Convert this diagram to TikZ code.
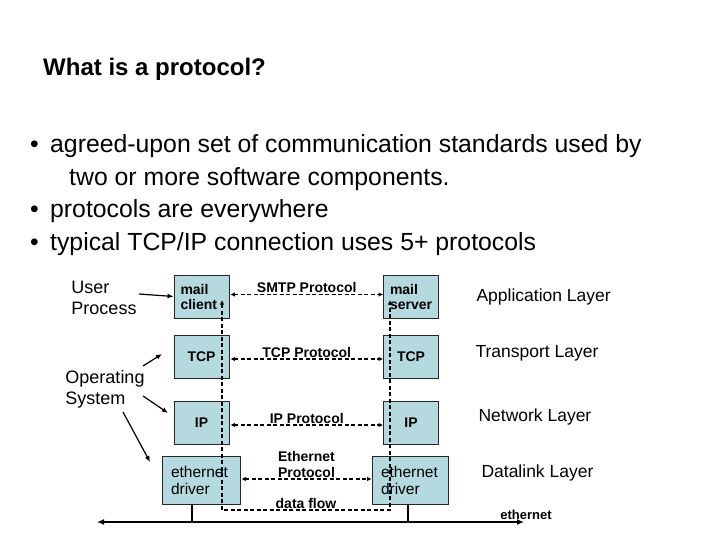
\documentclass[tikz,border=0pt]{standalone}
\usepackage{fontspec}
\setmainfont{Liberation Sans}
\usetikzlibrary{arrows.meta}
\definecolor{boxfill}{RGB}{180,218,224}
\tikzset{
  stackbox/.style={draw=black!85, fill=boxfill, line width=0.8pt, inner ysep=0pt,
    minimum height=43pt, font=\fontsize{14}{15}\selectfont\bfseries},
  leftbox/.style={stackbox, text width=42pt, inner xsep=6.5pt, align=left},
  midbox/.style={stackbox, minimum width=55pt, inner xsep=0pt},
  drvbox/.style={stackbox, minimum height=48pt, inner xsep=9pt, align=left,
    font=\fontsize{15.5}{17}\selectfont},
  peer/.style={dash pattern=on 4pt off 2.5pt, line width=1.7pt,
    {Latex[length=4.5pt,width=4.5pt]}-{Latex[length=4.5pt,width=4.5pt]}},
  plabel/.style={font=\fontsize{14}{16}\selectfont\bfseries, inner sep=1pt, align=center},
  layer/.style={anchor=west, font=\fontsize{17.5}{19}\selectfont},
  side/.style={font=\fontsize{18}{21}\selectfont, align=left},
  point/.style={-{Latex[length=6pt,width=5pt]}, line width=1.2pt},
  bullet/.style={anchor=base west, font=\fontsize{24.8}{28}\selectfont}
}
\begin{document}
\begin{tikzpicture}[x=1pt, y=-1pt]
  \useasboundingbox (0,0) rectangle (720,540);

  % heading and bullets
  \node[anchor=base west, font=\fontsize{24}{28}\selectfont\bfseries, inner sep=0pt]
    (title) at (43,76) {What is a protocol?};
  \node[bullet, inner sep=0pt] (b1) at (30,153) {•};
  \node[bullet, inner sep=0pt] (t1) at (50,153) {agreed-upon set of communication standards used by};
  \node[bullet, inner sep=0pt] (t1b) at (69,186) {two or more software components.};
  \node[bullet, inner sep=0pt] (b2) at (30,218) {•};
  \node[bullet, inner sep=0pt] (t2) at (50,218) {protocols are everywhere};
  \node[bullet, inner sep=0pt] (b3) at (30,251) {•};
  \node[bullet, inner sep=0pt] (t3) at (50,251) {typical TCP/IP connection uses 5+ protocols};

  % the two stacks
  \node[leftbox] (mc) at (201.5,296.5) {mail\\client};
  \node[leftbox] (ms) at (411,296.5) {mail\\server};
  \node[midbox] (tcpl) at (201.5,357) {TCP};
  \node[midbox] (tcpr) at (411,357) {TCP};
  \node[midbox] (ipl) at (201.5,423) {IP};
  \node[midbox] (ipr) at (411,423) {IP};
  \node[drvbox, text width=60pt] (edl) at (201,480) {ethernet\\driver};
  \node[drvbox, text width=58pt] (edr) at (410,480) {ethernet\\driver};

  % peer protocols
  \draw[peer] (mc.east) ++(1,-2) coordinate (smtpA) -- (smtpA -| ms.west)
    node[plabel, midway, above] (smtp) {SMTP Protocol};
  \draw[peer] (tcpl.east) ++(1,2) coordinate (tcpA) -- (tcpA -| tcpr.west)
    node[plabel, midway, above] (tcpp) {TCP Protocol};
  \draw[peer] (ipl.east) ++(1,2) coordinate (ipA) -- (ipA -| ipr.west)
    node[plabel, midway, above] (ipp) {IP Protocol};
  \draw[peer] (edl.east) ++(1,-1) coordinate (ethA) -- (ethA -| edr.west)
    node[plabel, midway, above] (ethp) {Ethernet\\Protocol};

  % data flow
  \coordinate (dfA) at (222,300);
  \coordinate (dfB) at (222,510);
  \coordinate (dfC) at (390,510);
  \coordinate (dfD) at (390,300);
  \draw[peer] (dfA) -- (dfB) -- (dfC)
    node[plabel, midway, above] (flow) {data flow} -- (dfD);

  % the wire
  \coordinate (busL) at (97,522);
  \coordinate (busR) at (524,522);
  \draw[line width=2pt, {Latex[length=7pt,width=6pt]}-{Latex[length=7pt,width=6pt]}] (busL) -- (busR);
  \draw[line width=1.5pt] ([xshift=-9pt]edl.south) -- ([xshift=-9pt]edl.south |- busL);
  \draw[line width=1.5pt] ([xshift=-2pt]edr.south) -- ([xshift=-2pt]edr.south |- busL);
  \node[font=\fontsize{13}{15}\selectfont\bfseries, inner sep=0pt, anchor=base]
    (eth) at (526,519) {ethernet};

  % who owns what
  \node[side] (user) at (104,298) {User\\Process};
  \node[side] (os) at (105,389) {Operating\\System};
  \draw[point] (139,294) -- (mc.west);
  \draw[point] (143,366) -- (162,354);
  \draw[point] (143,396) -- (168,413);
  \draw[point] (123,412) -- (150,462);

  % layers
  \node[layer] (app) at (473,297) {Application Layer};
  \node[layer] (trn) at (472,353) {Transport Layer};
  \node[layer] (net) at (475,417) {Network Layer};
  \node[layer] (dll) at (478,473) {Datalink Layer};
\end{tikzpicture}
\end{document}
